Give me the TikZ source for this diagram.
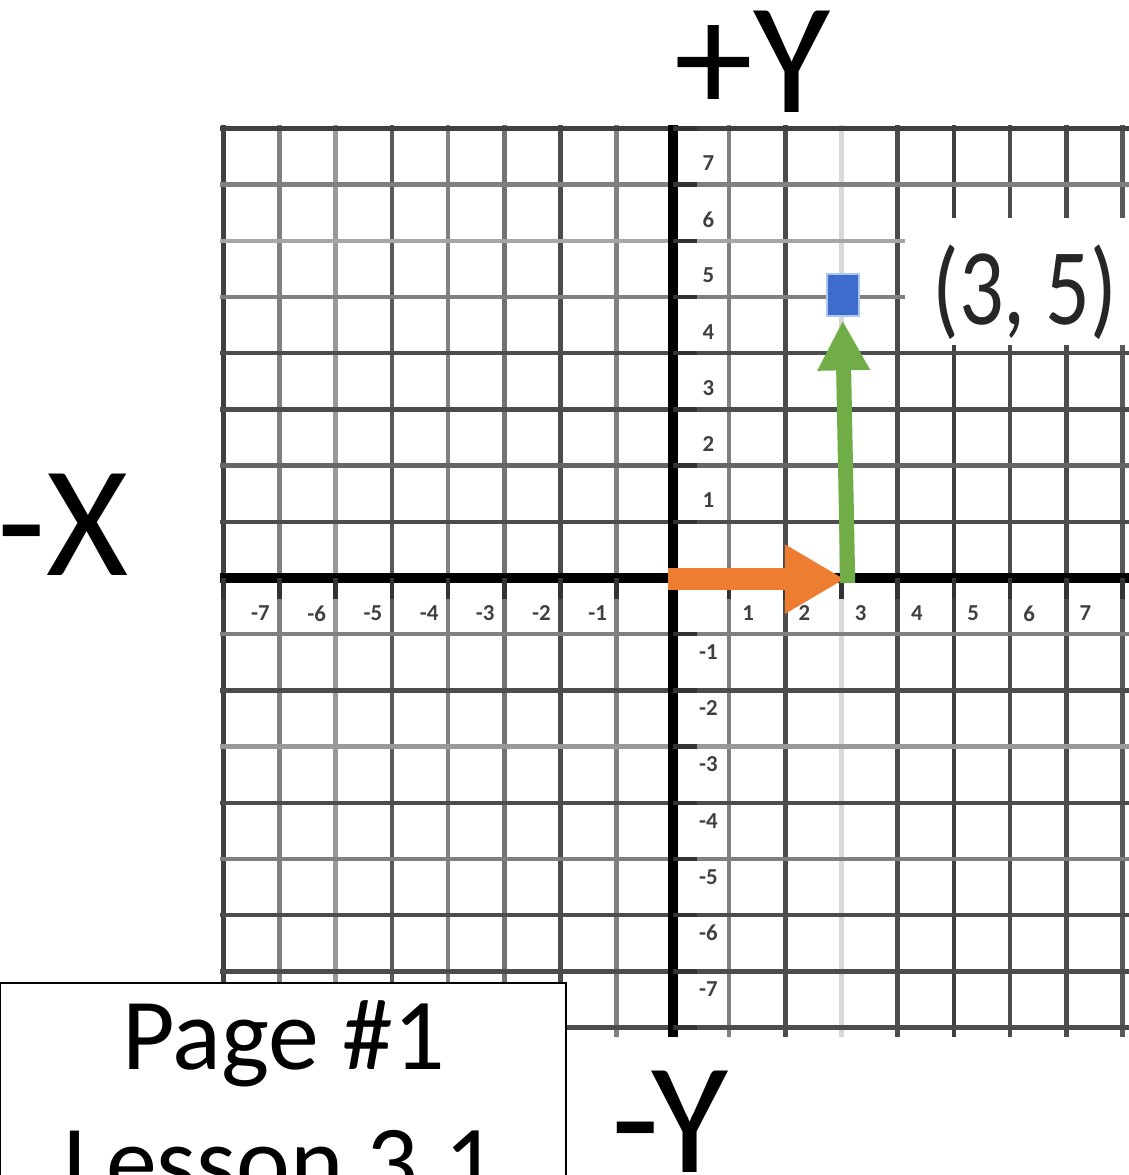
\documentclass[tikz,border=0pt]{standalone}
\usepackage{fontspec}
\setmainfont{Carlito}
\usetikzlibrary{arrows.meta}
\definecolor{vecorange}{RGB}{237,125,49}
\definecolor{vecgreen}{RGB}{112,173,71}
\definecolor{ptblue}{RGB}{61,108,204}
\definecolor{ptedge}{RGB}{172,198,238}
\begin{document}
\begin{tikzpicture}[
	x=1.124cm, y=1.124cm,
	gline/.style={ line width=2.6pt },
	axisline/.style={ line width=5.5pt, black },
	tickmark/.style={ line width=2.6pt, black!80 },
	num/.style={ font=\fontsize{13}{13}\selectfont\bfseries, text=black!75, inner sep=0pt },
	bigaxis/.style={ font=\fontsize{90}{100}\selectfont, inner sep=0pt, anchor=base },
	pagetext/.style={ font=\fontsize{58}{70}\selectfont, inner sep=0pt, anchor=base },
	coordtext/.style={ font=\fontsize{62}{70}\selectfont, text=black!85, inner sep=0pt },
	pt/.style={ rectangle, fill=ptblue, draw=ptedge, line width=1.2pt, minimum width=0.64cm, minimum height=0.84cm, inner sep=0pt },
	hvec/.style={ vecorange, line width=0.44cm, -{Triangle[length=1.2cm,width=1.3cm]} },
	vvec/.style={ vecgreen, line width=0.3cm, -{Triangle[length=1cm,width=0.98cm]} }
]
\useasboundingbox (-11.975,-10.623) rectangle (8.114,10.285);

\foreach \x/\c in {-8/75,-7/50,-6/40,-5/65,-4/50,-3/55,-2/70,-1/50,1/50,2/70,3/15,4/70,5/75,6/70,7/70,8/65}
	\draw[gline, black!\c] (\x,-8.17) -- (\x,8.06);
\foreach \y/\c in {8/75,7/50,6/35,5/50,4/70,3/70,2/60,1/70,-1/50,-2/70,-3/40,-4/70,-5/50,-6/70,-7/70,-8/70}
	\draw[gline, black!\c] (-8.06,\y) -- (8.2,\y);

\draw[axisline] (-8.06,0) -- (8.2,0);
\draw[axisline] (0,8.06) -- (0,-8.17);
\foreach \k in {-8,...,-1,1,2,...,8}{
	\draw[tickmark] (0,\k) -- (0.43,\k);
	\draw[tickmark] (\k,0) -- (\k,-0.38);
}

\foreach \k in {1,...,7}{
	\node at ({\k+0.34},-0.63) (xp\k) [num] {\k};
	\node at ({-\k-0.34},-0.63) (xn\k) [num] {-\k};
	\node at (0.63,{\k+0.38}) (yp\k) [num] {\k};
	\node at (0.63,{-\k-0.32}) (yn\k) [num] {-\k};
}

\fill[white] (4.13,4.15) rectangle (8.2,6.41);
\node at (6.26,5.08) (lbl) [coordtext] {\scalebox{0.81}[1]{(3, 5)}};

\coordinate (o) at (-0.09,-0.02);
\coordinate (a) at (3.06,-0.02);
\coordinate (b) at (3.11,-0.09);
\node at (3.02,5.04) (p) [pt] {};
\draw[hvec] (o) -- (a);
\draw[vvec] (b) -- ([yshift=-2pt]p.south);

\node at (1.42,8.29) (ytop) [bigaxis] {+Y};
\node at (-10.85,0.04) (xleft) [bigaxis] {-X};
\node at (-0.05,-10.57) (ybot) [bigaxis] {-Y};

\node at (-12,-7.19) (pagebox) [draw, fill=white, line width=1.2pt, anchor=north west, minimum width=11.33cm, minimum height=4.5cm] {};
\node at (-6.93,-8.75) (pg) [pagetext] {Page \#1};
\node at (-7.0,-11.01) (ls) [pagetext] {Lesson 3.1};

\end{tikzpicture}
\end{document}
